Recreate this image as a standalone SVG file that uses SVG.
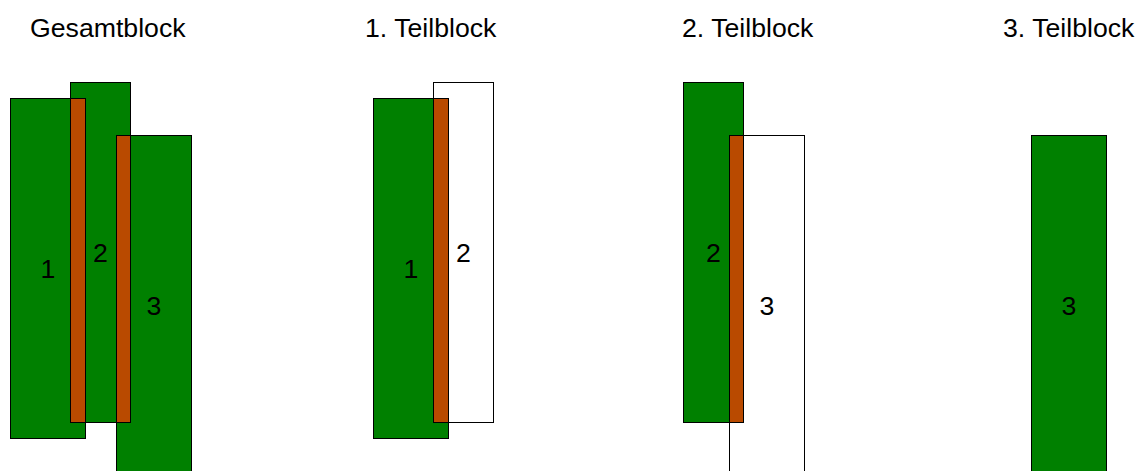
<svg xmlns="http://www.w3.org/2000/svg" width="1138" height="471" viewBox="0 0 1138 471">
<style>
.g{fill:#008000;stroke:#000;stroke-width:1}
.w{fill:#fff;stroke:#000;stroke-width:1}
.o{fill:#b94a00;stroke:#000;stroke-width:1}
text{font-family:"Liberation Sans",Arial,sans-serif;font-size:26.67px;fill:#000}
.c{text-anchor:middle}
</style>
<rect width="1138" height="471" fill="#fff"/>
<g id="titles">
<text x="30" y="37">Gesamtblock</text>
<text x="365" y="37">1. Teilblock</text>
<text x="682" y="37">2. Teilblock</text>
<text x="1003" y="37">3. Teilblock</text>
</g>
<g id="gesamt">
<g id="g-block1"><rect class="g" x="10.5" y="98.5" width="75" height="340"/></g>
<g id="g-block2"><rect class="g" x="70.5" y="82.5" width="60" height="340"/></g>
<g id="g-block3"><rect class="g" x="116.5" y="135.5" width="75" height="340"/></g>
<g id="g-overlap12"><rect class="o" x="70.5" y="98.5" width="15" height="324"/></g>
<g id="g-overlap23"><rect class="o" x="116.5" y="135.5" width="14" height="287"/></g>
<text class="c" x="48" y="277.5">1</text>
<text class="c" x="100.5" y="262">2</text>
<text class="c" x="154" y="315">3</text>
</g>
<g id="teil1">
<g id="t1-block1"><rect class="g" x="373.5" y="98.5" width="75" height="340"/></g>
<g id="t1-block2"><rect class="w" x="433.5" y="82.5" width="60" height="340"/></g>
<g id="t1-overlap"><rect class="o" x="433.5" y="98.5" width="15" height="324"/></g>
<text class="c" x="411" y="277.5">1</text>
<text class="c" x="463.5" y="262">2</text>
</g>
<g id="teil2">
<g id="t2-block2"><rect class="g" x="683.5" y="82.5" width="60" height="340"/></g>
<g id="t2-block3"><rect class="w" x="729.5" y="135.5" width="75" height="340"/></g>
<g id="t2-overlap"><rect class="o" x="729.5" y="135.5" width="14" height="287"/></g>
<text class="c" x="713.5" y="262">2</text>
<text class="c" x="767" y="315">3</text>
</g>
<g id="teil3">
<g id="t3-block3"><rect class="g" x="1031.5" y="135.5" width="75" height="340"/></g>
<text class="c" x="1069" y="315">3</text>
</g>
<g id="connectors"/>
</svg>
